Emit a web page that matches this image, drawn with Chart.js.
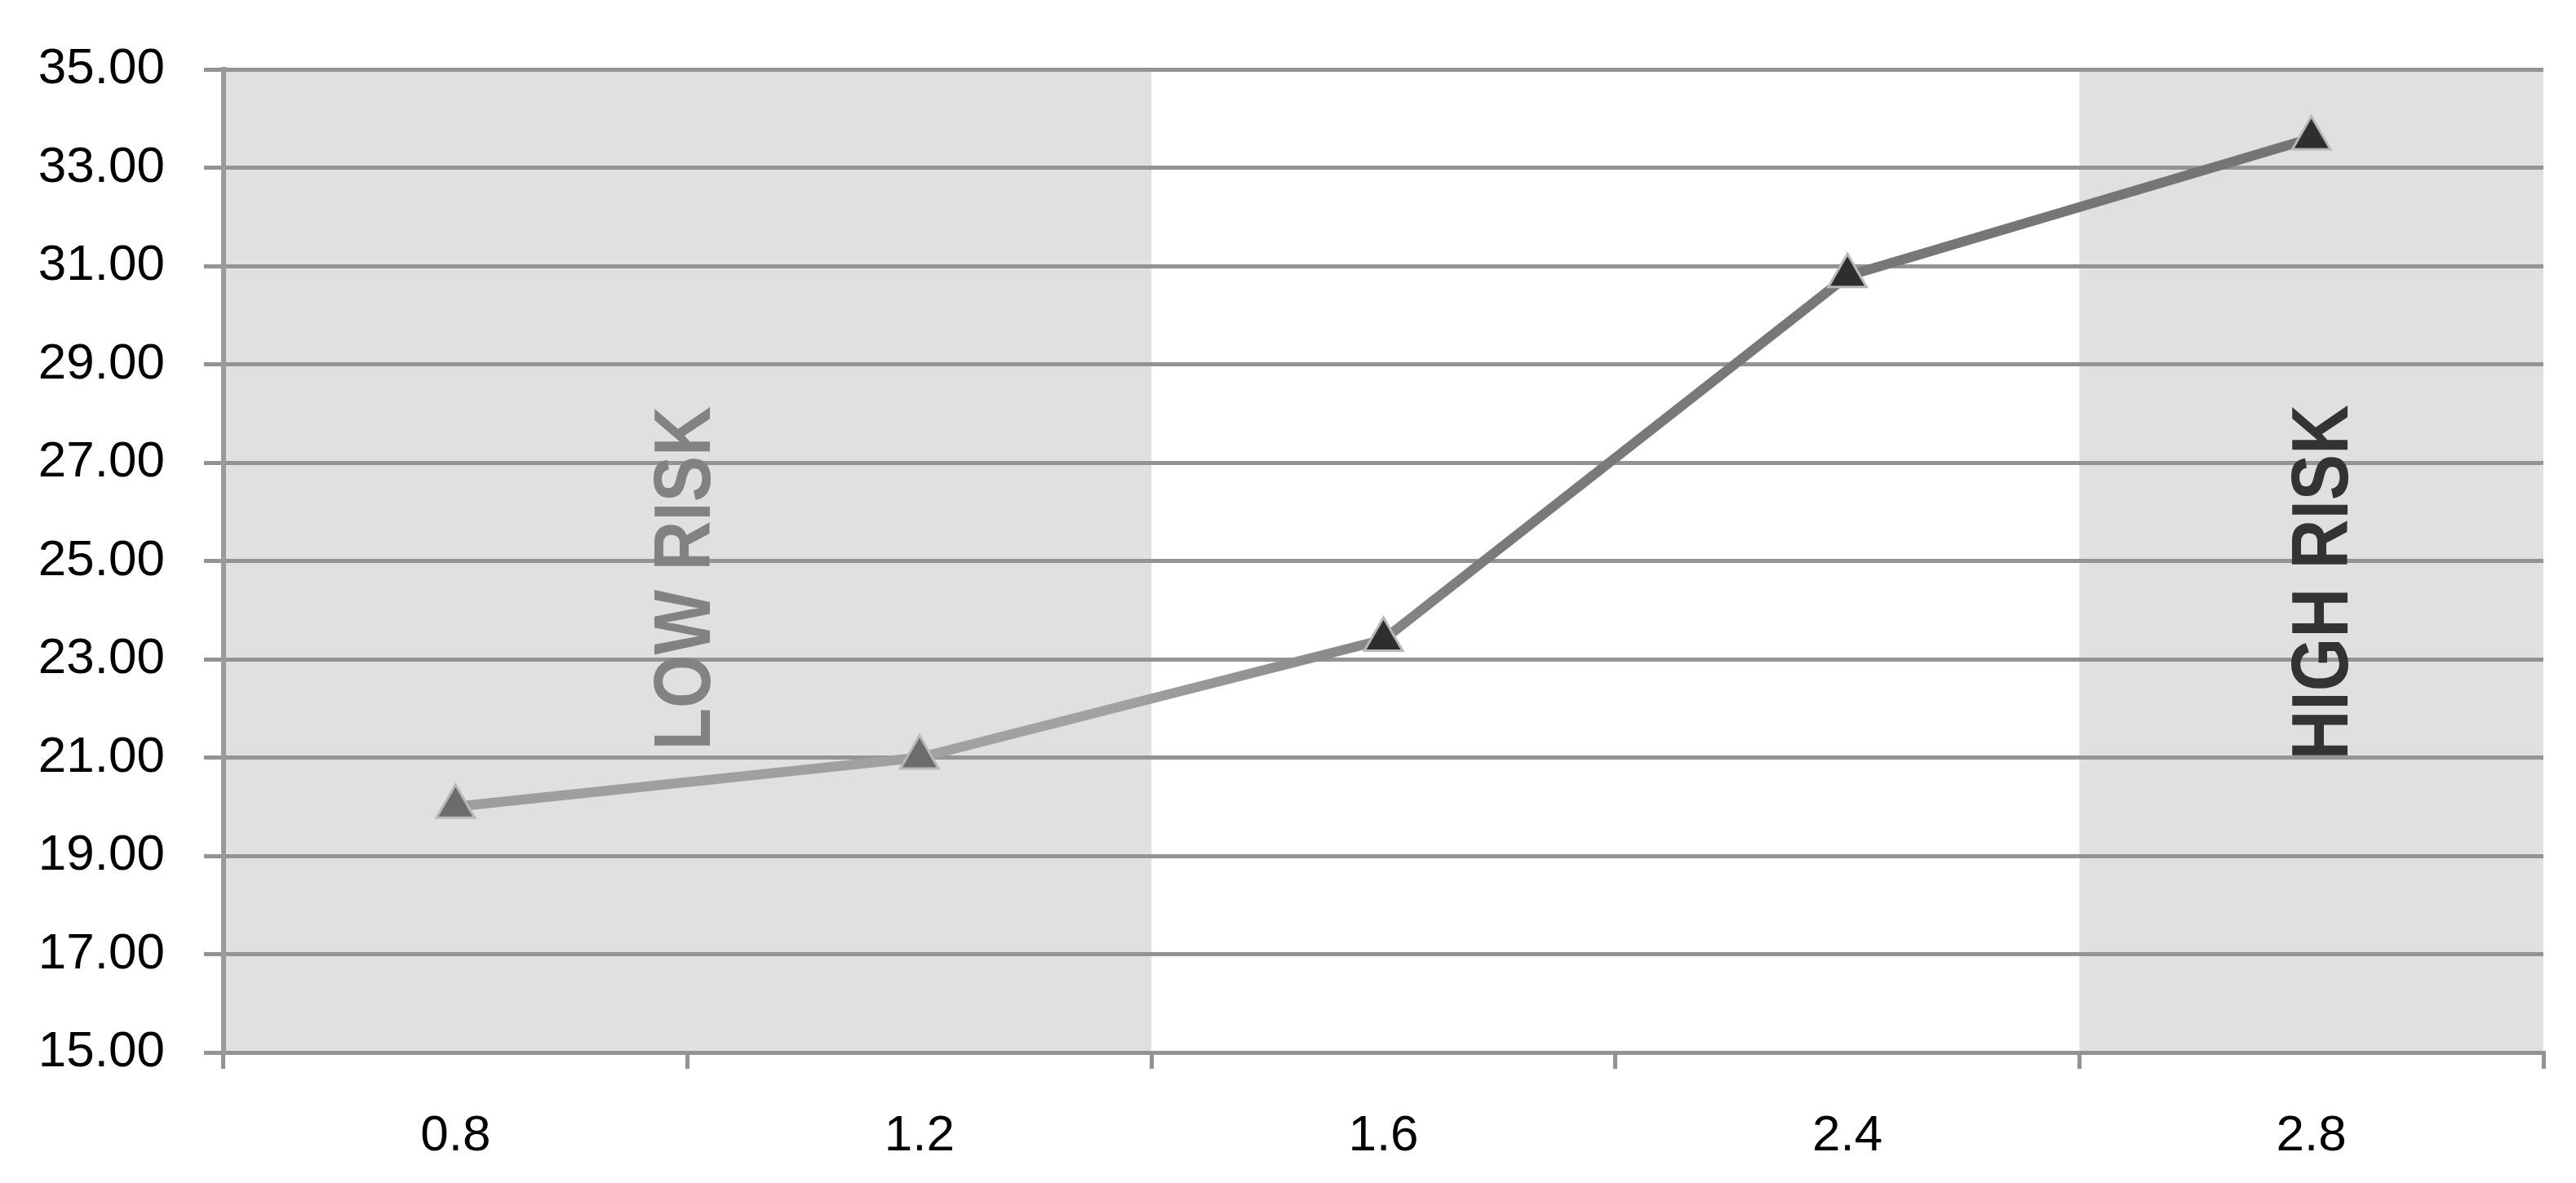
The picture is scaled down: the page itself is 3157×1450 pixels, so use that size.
<!DOCTYPE html>
<html>
<head>
<meta charset="utf-8">
<script src="https://cdn.jsdelivr.net/npm/chart.js@4.4.1/dist/chart.umd.min.js"></script>
<style>
    html, body { margin: 0; padding: 0; background: #fff; }
    #wrap { width: 3157px; height: 1450px; }
</style>
</head>
<body>
<div id="wrap"><canvas id="riskChart" width="3157" height="1450"></canvas></div>
<script>
// chart data
const categories = ['0.8', '1.2', '1.6', '2.4', '2.8'];
const values = [20.0, 21.0, 23.4, 30.8, 33.6];
const yMin = 15;
const yMax = 35;
const yStep = 2;
const lowRiskCats = ['0.8', '1.2'];
const highRiskCats = ['2.8'];
const markerColors = ['#6c6c6c', '#6c6c6c', '#2e2e2e', '#2e2e2e', '#2e2e2e'];

const tickFont = { family: '"Liberation Sans", Arial, sans-serif', size: 62 };

// shaded risk zones + their labels
const riskZones = {
    id: 'riskZones',
    beforeDraw(chart) {
        const { ctx, chartArea: a, scales: { x } } = chart;
        const half = (x.getPixelForValue(1) - x.getPixelForValue(0)) / 2;
        const lowEnd = x.getPixelForValue(categories.indexOf(lowRiskCats[lowRiskCats.length - 1])) + half;
        const highStart = x.getPixelForValue(categories.indexOf(highRiskCats[0])) - half;
        ctx.save();
        ctx.fillStyle = '#e0e0e0';
        ctx.fillRect(a.left, a.top, lowEnd - a.left, a.bottom - a.top);
        ctx.fillRect(highStart, a.top, a.right - highStart, a.bottom - a.top);
        ctx.restore();
    },
    beforeDatasetsDraw(chart) {
        const { ctx, scales: { x, y } } = chart;
        const font = 'bold 98px "Liberation Sans", Arial, sans-serif';
        const drawLabel = (text, xv, yv, color) => {
            ctx.save();
            ctx.translate(x.getPixelForValue(xv), y.getPixelForValue(yv));
            ctx.rotate(-Math.PI / 2);
            ctx.scale(0.86, 1); // narrower letters, like the original
            ctx.font = font;
            ctx.fillStyle = color;
            ctx.textAlign = 'left';
            ctx.textBaseline = 'middle';
            ctx.fillText(text, 0, 0);
            ctx.restore();
        };
        drawLabel('LOW RISK', 0.5, 21.15, '#828282');
        drawLabel('HIGH RISK', 4.03, 20.95, '#333333');
    }
};

const ctx = document.getElementById('riskChart').getContext('2d');
new Chart(ctx, {
    type: 'line',
    data: {
        labels: categories,
        datasets: [{
            data: values,
            borderColor: function(context) {
                const area = context.chart.chartArea;
                if (!area) return '#888888';
                const g = context.chart.ctx.createLinearGradient(area.left, 0, area.right, 0);
                g.addColorStop(0, '#9c9c9c');
                g.addColorStop(0.38, '#a2a2a2');
                g.addColorStop(0.55, '#7a7a7a');
                g.addColorStop(1, '#727272');
                return g;
            },
            borderWidth: 12,
            tension: 0,
            pointStyle: 'triangle',
            pointRadius: 27,
            pointBackgroundColor: markerColors,
            pointBorderColor: '#b8b8b8',
            pointBorderWidth: 3
        }]
    },
    options: {
        responsive: false,
        animation: false,
        layout: {
            padding: { top: 78, right: 40, left: 0, bottom: 0 }
        },
        plugins: {
            legend: { display: false },
            tooltip: { enabled: false }
        },
        scales: {
            x: {
                offset: true,
                grid: {
                    offset: true,
                    drawOnChartArea: false,
                    drawTicks: true,
                    tickLength: 20,
                    color: '#939393',
                    lineWidth: 5
                },
                border: { display: true, color: '#939393', width: 5 },
                ticks: {
                    font: tickFont,
                    color: '#000',
                    padding: 46,
                    maxRotation: 0
                },
                afterFit(scale) { scale.height = 160; }
            },
            y: {
                min: yMin,
                max: yMax,
                grid: {
                    color: '#939393',
                    lineWidth: 5,
                    drawTicks: true,
                    tickLength: 24
                },
                border: { display: true, color: '#9a9a9a', width: 6 },
                ticks: {
                    stepSize: yStep,
                    font: tickFont,
                    color: '#000',
                    padding: 48,
                    callback: function(value) {
                        return value.toFixed(2);
                    }
                },
                afterFit(scale) { scale.width = 274; }
            }
        }
    },
    plugins: [riskZones]
});
</script>
</body>
</html>
